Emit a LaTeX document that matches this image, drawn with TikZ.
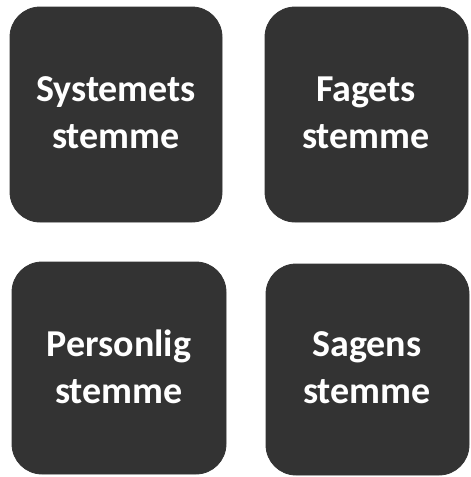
\documentclass[tikz,border=0pt]{standalone}
\usepackage{fontspec}
\setmainfont{Carlito}
\definecolor{boxgray}{HTML}{333333}
\begin{document}
\begin{tikzpicture}[x=1pt,y=-1pt,
  card/.style={fill=boxgray, draw=black!80, line width=0.8pt, rounded corners=30pt},
  cardtext/.style={text=white, align=center, font=\bfseries\fontsize{38}{47}\selectfont}]
\useasboundingbox (0,0) rectangle (471,477);
\fill[white] (0,0) rectangle (471,477);
\draw[card] (10,7) rectangle (222,222);
\draw[card] (265,7) rectangle (468,222);
\draw[card] (12,262) rectangle (226,474);
\draw[card] (266,264) rectangle (469,475);
\node[cardtext] (sys) at (116,113) {Systemets\\stemme};
\node[cardtext] (fag) at (366,113) {Fagets\\stemme};
\node[cardtext] (per) at (119,367) {Personlig\\stemme};
\node[cardtext] (sag) at (367,368) {Sagens\\stemme};
\end{tikzpicture}
\end{document}
